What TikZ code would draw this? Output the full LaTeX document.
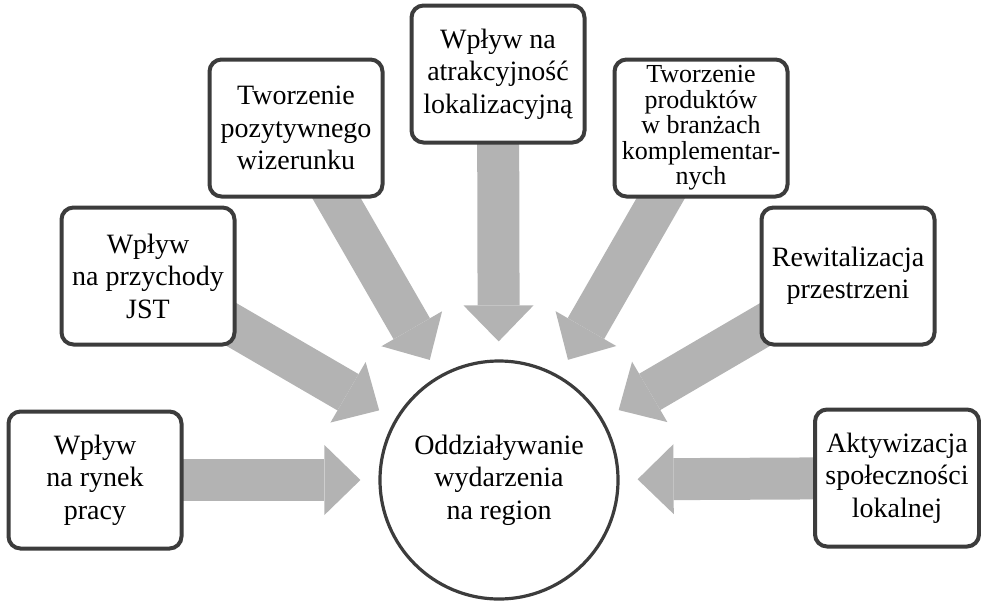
\documentclass[tikz,border=0pt]{standalone}
\usepackage{fontspec}
\setmainfont{Liberation Serif}
\newfontfamily\boxfont{Liberation Serif}
\definecolor{flowgray}{RGB}{179,179,179}
\definecolor{framegray}{RGB}{60,60,60}
\usetikzlibrary{arrows.meta,backgrounds}

\begin{document}
\begin{tikzpicture}[x=1pt,y=-1pt,
  effect/.style={draw=framegray,line width=4pt,rounded corners=12pt,fill=white,minimum width=173pt,minimum height=137pt,align=center,inner sep=3pt,font=\boxfont\fontsize{28}{32.5}\selectfont},
  hub/.style={circle,draw=framegray,line width=3.2pt,fill=white,minimum size=238pt,align=center,font=\boxfont\fontsize{28}{32.5}\selectfont},
  flow/.style={flowgray,line width=42pt,shorten >=18pt,-{Triangle[width=70pt,length=36pt,line width=0pt]}}]
  \useasboundingbox (0,0) rectangle (981,600);
  \node[hub] (hub) at (499,480) {Oddziaływanie\\wydarzenia\\na region};
  \node[effect] (labour) at (95,480) {Wpływ\\na rynek\\pracy};
  \node[effect] (income) at (148,276) {Wpływ\\na przychody\\JST};
  \node[effect] (image) at (296,128) {Tworzenie\\pozytywnego\\wizerunku};
  \node[effect] (place) at (498,74) {Wpływ na\\atrakcyjność\\lokalizacyjną};
  \node[effect,font=\boxfont\fontsize{26}{25.5}\selectfont,inner ysep=0pt] (products) at (701,128) {Tworzenie\\produktów\\w branżach\\komplementar-\\nych};
  \node[effect] (revital) at (848,276) {Rewitalizacja\\przestrzeni};
  \node[effect,minimum width=164pt] (social) at (897,478) {Aktywizacja\\społeczności\\lokalnej};
  % block arrows behind the boxes
  \begin{scope}[on background layer]
    \draw[flow] (labour.center) -- (hub);
    \draw[flow] (income.center) -- (hub);
    \draw[flow] (image.center) -- (hub);
    \draw[flow] (place.center) -- (hub);
    \draw[flow] (products.center) -- (hub);
    \draw[flow] (revital.center) -- (hub);
    \draw[flow] (social.center) -- (hub);
  \end{scope}
\end{tikzpicture}
\end{document}
